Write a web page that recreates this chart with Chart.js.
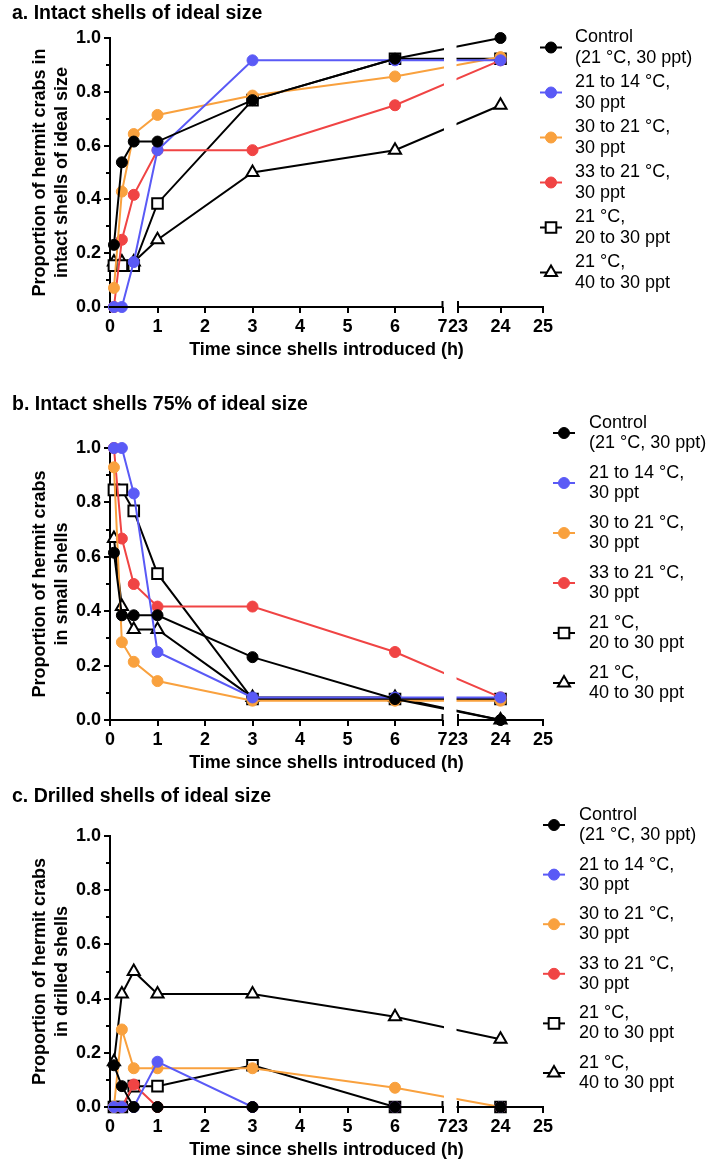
<!DOCTYPE html>
<html>
<head>
<meta charset="utf-8">
<script src="https://cdn.jsdelivr.net/npm/chart.js@4.4.1/dist/chart.umd.min.js"></script>
<style>
  html, body { margin: 0; padding: 0; background: #ffffff; }
  #page { position: relative; width: 709px; height: 1167px; overflow: hidden; }
  canvas { position: absolute; left: 0; }
</style>
</head>
<body>
<div id="page">
  <canvas id="panelA" width="709" height="361" style="top:0px"></canvas>
  <canvas id="panelB" width="709" height="394" style="top:380px"></canvas>
  <canvas id="panelC" width="709" height="381" style="top:780px"></canvas>
</div>
<script>
// Sampling times (h) after the shells were introduced
const timeHours = [0.083, 0.25, 0.5, 1, 3, 6, 24];

// x-axis ticks and the break between 7 h and 23 h
const xTickValues = [0, 1, 2, 3, 4, 5, 6, 7, 23, 24, 25];
const AXIS_BREAK = [7, 23];
const X_MAX = 25;

// Treatment groups
const seriesNames = [
  ['Control', '(21 °C, 30 ppt)'],
  ['21 to 14 °C,', '30 ppt'],
  ['30 to 21 °C,', '30 ppt'],
  ['33 to 21 °C,', '30 ppt'],
  ['21 °C,', '20 to 30 ppt'],
  ['21 °C,', '40 to 30 ppt']
];

// a. Intact shells of ideal size
const idealControl = [0.231, 0.538, 0.615, 0.615, 0.769, 0.923, 1.0];
const idealCooled  = [0, 0, 0.167, 0.583, 0.917, 0.917, 0.917];
const idealWarm30  = [0.071, 0.429, 0.643, 0.714, 0.786, 0.857, 0.929];
const idealWarm33  = [0, 0.25, 0.417, 0.583, 0.583, 0.75, 0.917];
const idealSal20   = [0.154, 0.154, 0.154, 0.385, 0.769, 0.923, 0.923];
const idealSal40   = [0.167, 0.167, 0.167, 0.25, 0.5, 0.583, 0.75];

// b. Intact shells 75% of ideal size
const smallControl = [0.615, 0.385, 0.385, 0.385, 0.231, 0.077, 0];
const smallCooled  = [1.0, 1.0, 0.833, 0.25, 0.083, 0.083, 0.083];
const smallWarm30  = [0.929, 0.286, 0.214, 0.143, 0.071, 0.071, 0.071];
const smallWarm33  = [1.0, 0.667, 0.5, 0.417, 0.417, 0.25, 0.083];
const smallSal20   = [0.846, 0.846, 0.769, 0.538, 0.077, 0.077, 0.077];
const smallSal40   = [0.667, 0.417, 0.333, 0.333, 0.083, 0.083, 0];

// c. Drilled shells of ideal size
const drilledControl = [0.154, 0.077, 0, 0, 0, 0, 0];
const drilledCooled  = [0, 0, 0, 0.167, 0, 0, 0];
const drilledWarm30  = [0, 0.286, 0.143, 0.143, 0.143, 0.071, 0];
const drilledWarm33  = [0, 0, 0.083, 0, 0, 0, 0];
const drilledSal20   = [0, 0, 0.077, 0.077, 0.154, 0, 0];
const drilledSal40   = [0.167, 0.417, 0.5, 0.417, 0.417, 0.333, 0.25];

// Series styling
const lineColors   = ['#000000', '#5a5af6', '#f9a13e', '#f04444', '#000000', '#000000'];
const markerFills  = ['#000000', '#5a5af6', '#f9a13e', '#f04444', '#ffffff', '#ffffff'];
const markerStyles = ['circle', 'circle', 'circle', 'circle', 'rect', 'triangle'];
const markerRadius = [5.5, 5.5, 5.5, 5.5, 7.5, 7];
const markerBorder = [1, 1, 1, 1, 2, 2];

const FONT = "'Liberation Sans', Arial, Helvetica, sans-serif";
Chart.defaults.font.family = FONT;
Chart.defaults.color = '#000';

// Horizontal axis with a gap between 7 h and 23 h
const SEG_LEFT = 0.7679, SEG_GAP = 0.0358, SEG_RIGHT = 1 - SEG_LEFT - SEG_GAP;
class BrokenTimeScale extends Chart.LinearScale {
  buildTicks() {
    return xTickValues.map(v => ({ value: v }));
  }
  valueToDecimal(v) {
    if (v <= AXIS_BREAK[0]) return v / AXIS_BREAK[0] * SEG_LEFT;
    if (v >= AXIS_BREAK[1]) return SEG_LEFT + SEG_GAP + (v - AXIS_BREAK[1]) / (X_MAX - AXIS_BREAK[1]) * SEG_RIGHT;
    return SEG_LEFT + (v - AXIS_BREAK[0]) / (AXIS_BREAK[1] - AXIS_BREAK[0]) * SEG_GAP;
  }
  getPixelForValue(v) {
    return v === null ? NaN : this.getPixelForDecimal(this.valueToDecimal(v));
  }
  getValueForPixel(p) {
    const d = this.getDecimalForPixel(p);
    if (d <= SEG_LEFT) return d / SEG_LEFT * AXIS_BREAK[0];
    if (d >= SEG_LEFT + SEG_GAP) return AXIS_BREAK[1] + (d - SEG_LEFT - SEG_GAP) / SEG_RIGHT * (X_MAX - AXIS_BREAK[1]);
    return AXIS_BREAK[0] + (d - SEG_LEFT) / SEG_GAP * (AXIS_BREAK[1] - AXIS_BREAK[0]);
  }
}
BrokenTimeScale.id = 'brokenTime';
BrokenTimeScale.defaults = Chart.LinearScale.defaults;
Chart.register(BrokenTimeScale);

// Panel heading, broken axis line, minor y ticks and the side legend
const panelDecor = {
  id: 'panelDecor',
  afterDatasetsDraw(chart, args, opts) {
    const { ctx, chartArea: a, scales: { x, y } } = chart;
    const g0 = x.getPixelForValue(AXIS_BREAK[0]);
    const g1 = x.getPixelForValue(AXIS_BREAK[1]);
    ctx.save();
    // lines are interrupted across the axis break
    ctx.fillStyle = '#ffffff';
    ctx.fillRect(g0 + 1.5, a.top - 12, g1 - g0 - 3, a.bottom - a.top + 14);
    // x axis in two pieces
    ctx.strokeStyle = '#000';
    ctx.lineWidth = 2;
    ctx.beginPath();
    ctx.moveTo(x.getPixelForValue(0) - 1, a.bottom);
    ctx.lineTo(g0, a.bottom);
    ctx.moveTo(g1, a.bottom);
    ctx.lineTo(x.getPixelForValue(X_MAX) + 1, a.bottom);
    ctx.moveTo(g0, a.bottom - 6); ctx.lineTo(g0, a.bottom);
    ctx.moveTo(g1, a.bottom - 6); ctx.lineTo(g1, a.bottom);
    ctx.stroke();
    // minor y ticks
    ctx.beginPath();
    for (let v = 0.1; v < 1; v += 0.2) {
      const py = Math.round(y.getPixelForValue(v));
      ctx.moveTo(a.left, py);
      ctx.lineTo(a.left - 4, py);
    }
    ctx.stroke();

    // heading
    ctx.fillStyle = '#000';
    ctx.font = 'bold 19.5px ' + FONT;
    ctx.textAlign = 'left';
    ctx.textBaseline = 'middle';
    ctx.fillText(opts.heading, 12, opts.headingY);

    // legend
    ctx.font = '18px ' + FONT;
    chart.data.datasets.forEach((ds, i) => {
      const ty = opts.legendTop + i * opts.legendStep;
      const my = ty + opts.legendLine / 2;
      ctx.strokeStyle = ds.borderColor;
      ctx.lineWidth = 2;
      ctx.beginPath();
      ctx.moveTo(opts.markerX - 11, my);
      ctx.lineTo(opts.markerX + 11, my);
      ctx.stroke();
      ctx.fillStyle = ds.pointBackgroundColor;
      ctx.strokeStyle = ds.pointBorderColor;
      ctx.lineWidth = ds.pointBorderWidth;
      Chart.helpers.drawPoint(ctx, {
        pointStyle: ds.pointStyle, radius: ds.pointRadius,
        borderWidth: ds.pointBorderWidth, rotation: 0
      }, opts.markerX, my);
      ctx.fillStyle = '#000';
      seriesNames[i].forEach((line, k) => {
        ctx.fillText(line, opts.textX, ty + k * opts.legendLine);
      });
    });
    ctx.restore();
  }
};

function buildDatasets(groups) {
  return groups.map((vals, i) => ({
    label: seriesNames[i].join(' '),
    data: timeHours.map((t, j) => ({ x: t, y: vals[j] })),
    borderColor: lineColors[i],
    backgroundColor: markerFills[i],
    borderWidth: 2,
    tension: 0,
    clip: false,
    pointStyle: markerStyles[i],
    pointRadius: markerRadius[i],
    pointBackgroundColor: markerFills[i],
    pointBorderColor: lineColors[i],
    pointBorderWidth: markerBorder[i],
    pointHoverRadius: markerRadius[i]
  }));
}

function buildPanel(canvasId, groups, yTitle, decor, padTop) {
  return new Chart(document.getElementById(canvasId), {
    type: 'line',
    data: { datasets: buildDatasets(groups) },
    options: {
      responsive: false,
      animation: false,
      events: [],
      layout: { padding: { top: padTop, left: 0, right: 166, bottom: 0 } },
      plugins: {
        legend: { display: false },
        tooltip: { enabled: false },
        title: { display: false },
        panelDecor: decor
      },
      scales: {
        x: {
          type: 'brokenTime',
          min: 0, max: X_MAX,
          border: { display: false },
          grid: { drawOnChartArea: false, drawTicks: true, tickLength: 6, color: '#000', lineWidth: 2 },
          ticks: {
            autoSkip: false, maxRotation: 0, padding: 3,
            font: { size: 18, weight: 'bold' }, color: '#000',
            callback: v => String(v)
          },
          title: {
            display: true, text: 'Time since shells introduced (h)',
            font: { size: 18, weight: 'bold', lineHeight: 1.2 },
            padding: { top: 0, bottom: 0 }, color: '#000'
          },
          afterFit: s => { s.height = 54; }
        },
        y: {
          min: 0, max: 1,
          border: { display: true, color: '#000', width: 2 },
          grid: { drawOnChartArea: false, drawTicks: true, tickLength: 6, color: '#000', lineWidth: 2 },
          ticks: {
            stepSize: 0.2, padding: 3,
            font: { size: 18, weight: 'bold' }, color: '#000',
            callback: v => Number(v).toFixed(1)
          },
          title: {
            display: true, text: yTitle,
            font: { size: 18, weight: 'bold', lineHeight: 1.222 },
            padding: { top: 29, bottom: 0 }, color: '#000'
          },
          afterFit: s => { s.width = 110; }
        }
      }
    },
    plugins: [panelDecor]
  });
}

buildPanel('panelA',
  [idealControl, idealCooled, idealWarm30, idealWarm33, idealSal20, idealSal40],
  ['Proportion of hermit crabs in', 'intact shells of ideal size'],
  { heading: 'a. Intact shells of ideal size', headingY: 14,
    markerX: 551, textX: 575, legendTop: 37, legendStep: 45, legendLine: 21 },
  38);

buildPanel('panelB',
  [smallControl, smallCooled, smallWarm30, smallWarm33, smallSal20, smallSal40],
  ['Proportion of hermit crabs', 'in small shells'],
  { heading: 'b. Intact shells 75% of ideal size', headingY: 25,
    markerX: 564, textX: 589, legendTop: 43, legendStep: 50, legendLine: 20 },
  68);

buildPanel('panelC',
  [drilledControl, drilledCooled, drilledWarm30, drilledWarm33, drilledSal20, drilledSal40],
  ['Proportion of hermit crabs', 'in drilled shells'],
  { heading: 'c. Drilled shells of ideal size', headingY: 17,
    markerX: 554, textX: 579, legendTop: 35, legendStep: 49.6, legendLine: 20 },
  56);
</script>
</body>
</html>
